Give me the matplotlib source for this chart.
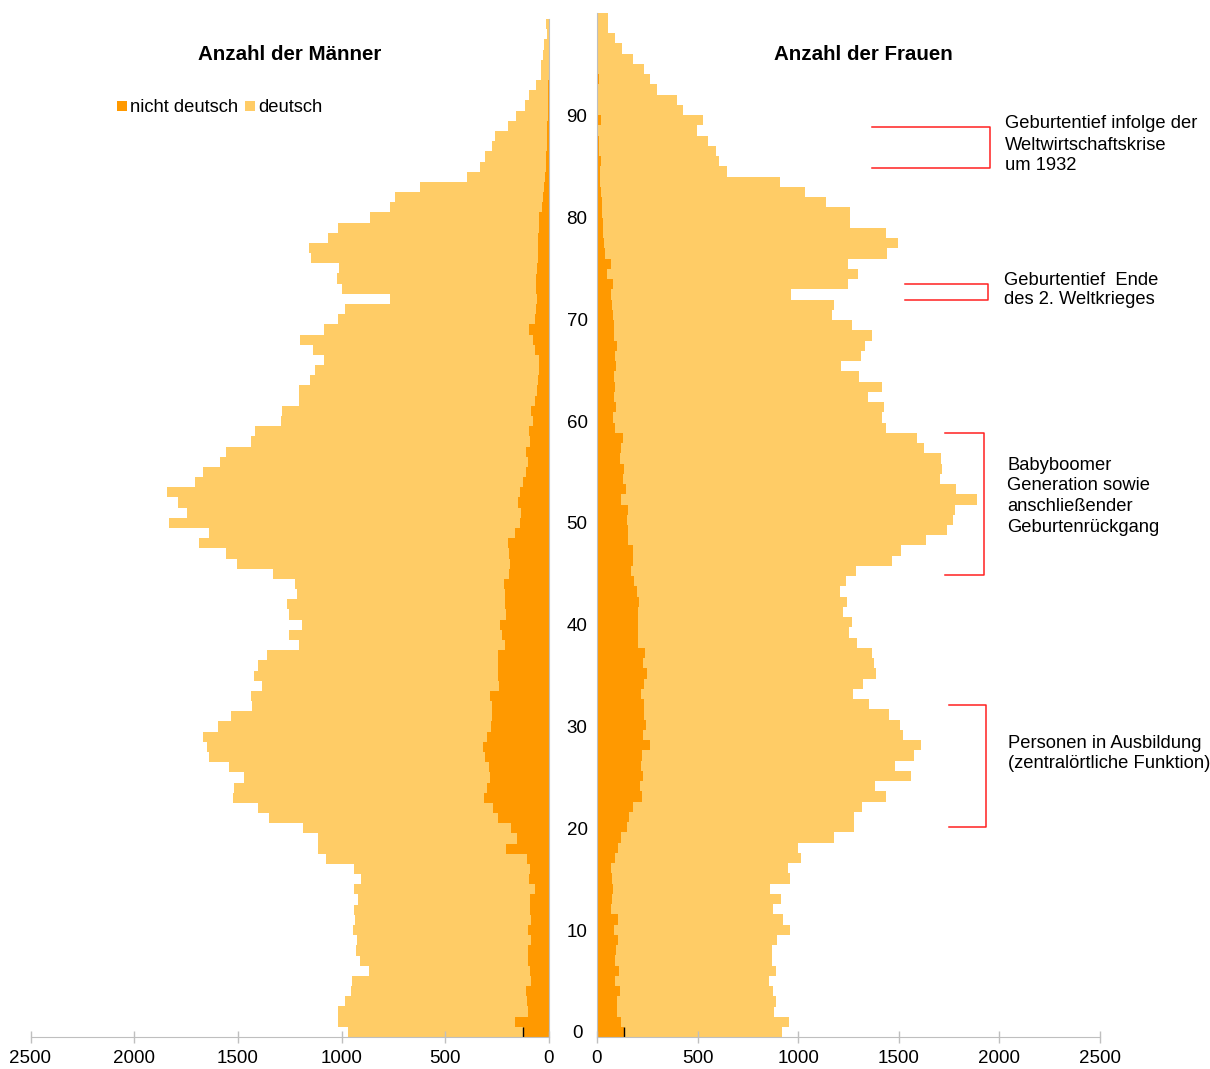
import matplotlib
matplotlib.use("Agg")
import matplotlib.pyplot as plt
from matplotlib.patches import Patch
from matplotlib.lines import Line2D

plt.rcParams['font.family'] = ['Liberation Sans', 'DejaVu Sans']

# ---------------- data (ages 0..99) ----------------
ages = list(range(100))

male_nicht_deutsch = [
    124, 164, 103, 108, 111, 89, 92, 103, 100, 89,
    100, 89, 92, 92, 68, 95, 92, 108, 205, 153,
    184, 248, 269, 313, 300, 285, 289, 309, 318, 301,
    280, 274, 274, 285, 240, 245, 245, 245, 213, 229,
    234, 208, 213, 213, 216, 192, 189, 193, 197, 164,
    140, 137, 148, 140, 124, 111, 100, 111, 92, 95,
    79, 89, 68, 60, 55, 48, 48, 68, 76, 95,
    68, 64, 56, 63, 63, 56, 52, 52, 52, 47,
    47, 35, 27, 23, 19, 16, 15, 12, 10, 8,
    6, 5, 4, 3, 2, 2, 1, 1, 1, 0]

male_deutsch = [
    846, 855, 912, 878, 843, 860, 778, 806, 830, 836,
    843, 846, 849, 830, 870, 811, 849, 967, 907, 959,
    1004, 1104, 1133, 1213, 1218, 1185, 1254, 1332, 1329, 1366,
    1314, 1257, 1157, 1154, 1143, 1177, 1156, 1117, 991, 1025,
    959, 1044, 1052, 1001, 1007, 1141, 1316, 1362, 1491, 1475,
    1690, 1610, 1641, 1702, 1585, 1556, 1488, 1444, 1346, 1322,
    1212, 1196, 1138, 1146, 1099, 1080, 1035, 1072, 1123, 991,
    947, 919, 713, 936, 961, 955, 1096, 1107, 1015, 972,
    814, 734, 714, 601, 378, 316, 294, 265, 248, 192,
    154, 111, 93, 61, 38, 38, 26, 22, 10, 16]

female_nicht_deutsch = [
    136, 119, 98, 101, 114, 89, 109, 89, 94, 106,
    86, 106, 68, 76, 81, 76, 68, 89, 106, 119,
    147, 159, 181, 222, 214, 227, 219, 225, 263, 230,
    244, 234, 234, 219, 235, 247, 227, 239, 205, 205,
    205, 202, 209, 197, 186, 169, 177, 177, 156, 152,
    151, 152, 118, 142, 131, 134, 114, 119, 128, 89,
    78, 93, 86, 89, 86, 93, 89, 98, 86, 86,
    81, 73, 70, 78, 51, 68, 40, 35, 31, 31,
    27, 23, 20, 15, 15, 18, 12, 12, 7, 20,
    6, 5, 6, 8, 5, 3, 2, 2, 1, 1]

female_deutsch = [
    785, 837, 783, 787, 759, 766, 781, 779, 777, 787,
    873, 817, 805, 837, 779, 883, 883, 925, 895, 1059,
    1132, 1120, 1139, 1214, 1168, 1334, 1264, 1351, 1347, 1293,
    1265, 1219, 1118, 1055, 1089, 1138, 1150, 1126, 1089, 1049,
    1064, 1022, 1032, 1011, 1052, 1118, 1288, 1334, 1479, 1586,
    1617, 1627, 1772, 1642, 1574, 1582, 1594, 1506, 1461, 1347,
    1340, 1335, 1259, 1326, 1218, 1120, 1226, 1236, 1279, 1180,
    1089, 1105, 893, 1171, 1248, 1181, 1400, 1463, 1405, 1226,
    1230, 1118, 1015, 895, 629, 588, 579, 541, 488, 505,
    420, 391, 291, 255, 230, 174, 124, 87, 52, 52]

x_ticks = [0, 500, 1000, 1500, 2000, 2500]
age_ticks = [0, 10, 20, 30, 40, 50, 60, 70, 80, 90]

series_labels = ['nicht deutsch', 'deutsch']
titles = ['Anzahl der Männer', 'Anzahl der Frauen']

notes = [
    ["Geburtentief infolge der", "Weltwirtschaftskrise", "um 1932"],
    ["Geburtentief  Ende", "des 2. Weltkrieges"],
    ["Babyboomer", "Generation sowie", "anschließender", "Geburtenrückgang"],
    ["Personen in Ausbildung", "(zentralörtliche Funktion)"],
]

# ---------------- styling ----------------
DARK = '#FF9900'
LIGHT = '#FFCC66'
GRAY = '#BFBFBF'
RED = '#FF2020'
FS = 13.2

W, H = 1210, 1069
fig = plt.figure(figsize=(W / 100, H / 100), dpi=100)


def box(l, t, r, b):
    return [l / W, 1 - b / H, (r - l) / W, (b - t) / H]


ax_m = fig.add_axes(box(30.5, 19, 549, 1037))
ax_f = fig.add_axes(box(597, 12.7, 1099.8, 1037.3))

for ax, nd, de in ((ax_m, male_nicht_deutsch, male_deutsch),
                   (ax_f, female_nicht_deutsch, female_deutsch)):
    ax.barh(ages, nd, height=1.0, color=DARK, linewidth=0, antialiased=False)
    ax.barh(ages, de, left=nd, height=1.0, color=LIGHT, linewidth=0, antialiased=False)
    ax.vlines(nd[0], -0.5, 0.5, color='black', lw=1)
    ax.set_ylim(-0.5, 99.5)
    ax.set_xlim(0, 2500)
    ax.set_xticks(x_ticks)
    ax.set_xticklabels([str(v) for v in x_ticks])
    ax.tick_params(axis='x', direction='inout', length=8, width=1, color=GRAY,
                   labelsize=13.5, pad=5.5)
    ax.spines['top'].set_visible(False)
    ax.spines['bottom'].set_color(GRAY)
    ax.set_facecolor('none')

ax_m.invert_xaxis()
ax_m.spines['left'].set_visible(False)
ax_m.spines['right'].set_color(GRAY)
ax_m.yaxis.tick_right()
ax_m.set_yticks(age_ticks)
ax_m.set_yticklabels([str(a) for a in age_ticks])
ax_m.tick_params(axis='y', length=0, pad=20.2, labelsize=13.5)
for lbl in ax_m.get_yticklabels():
    lbl.set_horizontalalignment('center')

ax_f.spines['right'].set_visible(False)
ax_f.spines['left'].set_color(GRAY)
ax_f.set_yticks([])

# titles
fig.text(290 / W, 1 - 54 / H, titles[0], ha='center', va='center',
         fontsize=14.8, fontweight='bold')
fig.text(863 / W, 1 - 54 / H, titles[1], ha='center', va='center',
         fontsize=14.8, fontweight='bold')

# legend
handles = [Patch(facecolor=DARK, edgecolor='none', label=series_labels[0]),
           Patch(facecolor=LIGHT, edgecolor='none', label=series_labels[1])]
fig.legend(handles=handles, loc='center left', bbox_to_anchor=(117 / W, 1 - 108 / H),
           ncol=2, frameon=False, handlelength=0.52, handleheight=0.52,
           handletextpad=0.17, columnspacing=0.42, borderpad=0, borderaxespad=0,
           fontsize=FS)

# annotation brackets (figure pixel positions)
brackets = [(872, 990, 127, 168), (905, 988, 283.7, 299.7),
            (945, 984, 433.3, 575), (949, 986, 705, 827.3)]
for x0, x1, y0, y1 in brackets:
    xs = [x0 / W, x1 / W, x1 / W, x0 / W]
    ys = [1 - y0 / H, 1 - y0 / H, 1 - y1 / H, 1 - y1 / H]
    fig.add_artist(Line2D(xs, ys, color=RED, lw=1.1, transform=fig.transFigure))

note_pos = [(1005, [124, 145, 166]), (1004, [280, 300]),
            (1007.5, [465, 485.7, 506.7, 527.3]), (1008, [743, 763])]
for lines, (xp, yps) in zip(notes, note_pos):
    for txt, yp in zip(lines, yps):
        fig.text(xp / W, 1 - yp / H, txt, ha='left', va='center', fontsize=FS)

fig.savefig('out.png', dpi=100)
